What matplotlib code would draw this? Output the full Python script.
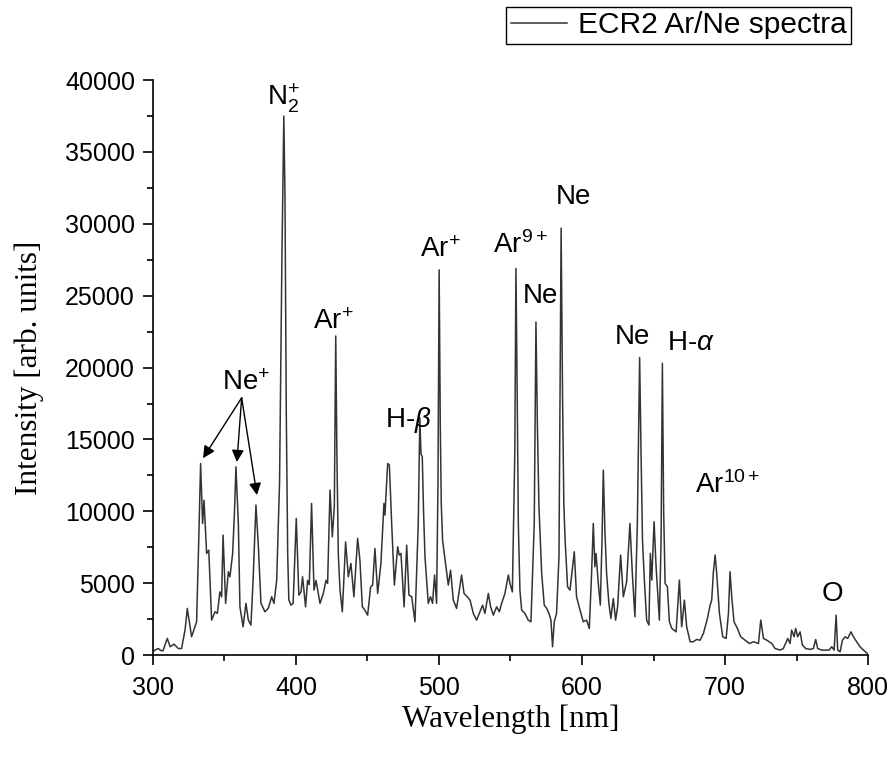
import numpy as np
import matplotlib.pyplot as plt
from matplotlib.ticker import MultipleLocator

plt.rcParams["font.family"] = "Liberation Sans"
plt.rcParams["mathtext.fontset"] = "custom"
plt.rcParams["mathtext.rm"] = "Liberation Sans"
plt.rcParams["mathtext.it"] = "Liberation Sans:italic"

# spectrum [wavelength nm, intensity]
wavelength = [
    300.0, 301.4, 303.7, 305.5, 307.0, 310.0, 312.0, 314.7, 317.7, 320.0,
    322.5, 324.0, 327.0, 330.5, 332.0, 333.3, 334.7, 335.7, 337.5, 339.0,
    341.0, 343.4, 345.0, 346.8, 348.0, 349.0, 350.8, 352.7, 353.8, 355.7,
    357.0, 358.0, 359.7, 360.8, 363.0, 365.0, 366.7, 368.5, 370.0, 372.0,
    373.7, 375.5, 378.3, 380.6, 383.0, 384.6, 386.5, 388.5, 390.2, 391.5,
    392.3, 393.2, 394.2, 395.0, 396.5, 398.0, 400.2, 402.0, 403.5, 404.6,
    406.7, 408.1, 409.3, 410.9, 412.6, 414.0, 416.8, 419.1, 421.0, 422.1,
    423.8, 425.4, 426.8, 427.8, 428.6, 429.6, 430.8, 432.4, 434.7, 436.6,
    438.4, 440.5, 443.1, 444.7, 446.4, 448.2, 450.1, 452.2, 453.6, 455.2,
    457.1, 459.4, 461.5, 462.2, 464.1, 465.3, 466.9, 468.8, 471.1, 472.2,
    473.4, 475.6, 477.4, 479.0, 480.9, 483.2, 485.5, 486.6, 487.4, 488.3,
    489.2, 490.2, 492.5, 494.1, 495.5, 496.9, 498.3, 499.3, 500.1, 500.9,
    501.6, 502.5, 504.6, 506.5, 508.1, 510.0, 512.3, 515.8, 517.5, 519.8,
    521.7, 524.0, 526.3, 528.2, 530.5, 532.1, 534.5, 536.1, 538.0, 540.3,
    542.2, 543.8, 546.1, 548.5, 549.6, 551.3, 553.0, 553.8, 554.6, 555.5,
    556.6, 557.8, 560.1, 562.4, 564.3, 566.6, 567.8, 568.8, 569.9, 571.8,
    573.6, 575.3, 576.9, 578.3, 579.4, 580.6, 582.2, 583.9, 585.4, 586.4,
    587.3, 588.2, 589.9, 591.6, 593.2, 594.6, 596.2, 598.6, 600.9, 603.2,
    605.1, 606.7, 607.9, 609.0, 609.8, 611.4, 612.8, 614.0, 614.9, 616.0,
    617.2, 618.8, 620.2, 621.9, 623.5, 624.9, 627.0, 628.9, 631.2, 633.5,
    635.2, 637.0, 638.7, 640.3, 641.3, 642.3, 643.6, 645.2, 646.8, 647.8,
    648.8, 650.4, 651.8, 654.1, 655.3, 656.2, 657.1, 658.1, 659.7, 661.1,
    662.8, 665.8, 668.1, 669.7, 671.6, 673.2, 675.6, 677.9, 680.2, 682.6,
    684.9, 687.7, 689.6, 690.7, 691.9, 693.1, 694.2, 696.1, 698.4, 700.8,
    702.4, 703.5, 704.7, 706.3, 708.7, 711.0, 714.0, 717.1, 719.9, 723.4,
    725.0, 726.9, 729.2, 732.7, 735.0, 738.5, 740.8, 743.9, 745.5, 746.6,
    748.3, 749.4, 750.8, 752.5, 754.1, 756.4, 759.5, 761.8, 763.4, 764.8,
    767.6, 770.4, 772.8, 774.6, 776.3, 777.7, 778.8, 780.5, 782.1, 784.0,
    785.8, 788.1, 789.8, 792.1, 794.4, 796.8, 799.5,
]
intensity = [
    250, 350, 460, 320, 300, 1160, 580, 765, 460, 460,
    1800, 3250, 1275, 2320, 8000, 13330, 9160, 10780, 7070, 7300,
    2435, 3015, 2900, 4400, 4060, 8350, 3600, 5800, 5450, 7070,
    10000, 13100, 9160, 3360, 1970, 3600, 2435, 2090, 5200, 10440,
    7540, 3600, 3015, 3250, 4060, 3600, 5200, 12000, 28000, 37500,
    32000, 17000, 7000, 3830, 3480, 3600, 9510, 4170, 4400, 5450,
    3360, 5200, 4900, 10550, 4520, 5200, 3600, 4290, 5200, 4990,
    11480, 8230, 10320, 22200, 14000, 7000, 4520, 3015, 7880, 5450,
    6380, 4060, 8120, 6610, 3360, 3130, 2780, 4750, 4870, 7420,
    4290, 6380, 10550, 9740, 13330, 13220, 9160, 4870, 7540, 6960,
    7070, 3360, 7650, 4170, 4060, 2320, 9160, 16500, 14000, 13800,
    10000, 6840, 3600, 4060, 3600, 5570, 3600, 12000, 26800, 16000,
    10500, 8000, 6380, 4870, 5910, 3830, 3250, 5570, 4290, 4060,
    3830, 2900, 2435, 2900, 3480, 2900, 4290, 3360, 2780, 3360,
    3015, 3600, 4290, 5570, 4990, 4400, 14000, 26900, 19000, 9000,
    4500, 3130, 2900, 2435, 2320, 9160, 23170, 16000, 10320, 5680,
    3480, 3250, 2900, 2435, 580, 2320, 2900, 6840, 29700, 18000,
    10500, 8000, 4750, 4520, 5910, 7190, 4060, 3130, 2320, 2435,
    1855, 5680, 9160, 6150, 7070, 4990, 3480, 8000, 12870, 8700,
    5680, 3600, 2550, 3940, 2435, 3360, 6960, 4060, 5100, 9160,
    5680, 2670, 9160, 20700, 14000, 8000, 5220, 2435, 2090, 7070,
    5220, 9280, 6150, 2435, 8000, 20300, 10000, 4990, 4750, 2320,
    1855, 1620, 5220, 1970, 3830, 1970, 930, 930, 1090, 1040,
    1510, 2550, 3480, 3830, 5800, 6960, 5680, 2900, 1275, 1160,
    2900, 5800, 4060, 2320, 1855, 1275, 1040, 810, 930, 810,
    2435, 1160, 1040, 810, 460, 350, 460, 1160, 810, 1740,
    1275, 1855, 1275, 1620, 700, 460, 400, 460, 1090, 460,
    350, 350, 350, 580, 350, 2780, 350, 230, 1040, 1275,
    1160, 1620, 1275, 930, 580, 350, 115,
]

# peak labels: text, x, y
labels = ["N$_2^{+}$", "Ne$^{+}$", "Ar$^{+}$", "H-$\\beta$", "Ar$^{+}$", "Ar$^{9+}$",
          "Ne", "Ne", "Ne", "H-$\\alpha$", "Ar$^{10+}$", "O"]
label_x = [391, 365, 425.9, 478.3, 500.7, 556.6, 570.6, 593.7, 635, 676.2, 702, 774.8]
label_y = [38750, 18900, 23170, 16350, 28180, 28520, 24980, 31860, 22120, 21700, 11830, 4240]

# Ne+ arrows
arrow_start = (362, 17900)
arrow_tips_x = [335, 358.7, 372.7]
arrow_tips_y = [13700, 13430, 11130]

fig = plt.figure(figsize=(8.91, 7.6), dpi=100)
ax = fig.add_axes([0.1717, 0.138, 0.8025, 0.7566])

ax.plot(wavelength, intensity, color="#333333", linewidth=1.1, label="ECR2 Ar/Ne spectra")

for t, x, y in zip(labels, label_x, label_y):
    ax.text(x, y, t, fontsize=20, ha="center", va="center")

for x, y in zip(arrow_tips_x, arrow_tips_y):
    ax.annotate("", xy=(x, y), xytext=arrow_start,
                arrowprops=dict(arrowstyle="-|>", color="black", lw=1.0,
                                mutation_scale=18, shrinkA=0, shrinkB=0))

ax.set_xlim(300, 800)
ax.set_ylim(0, 40000)
ax.xaxis.set_major_locator(MultipleLocator(100))
ax.xaxis.set_minor_locator(MultipleLocator(50))
ax.yaxis.set_major_locator(MultipleLocator(5000))
ax.yaxis.set_minor_locator(MultipleLocator(2500))
ax.tick_params(which="major", direction="out", length=7, width=1.2, labelsize=18)
ax.tick_params(axis="y", which="major", pad=6)
ax.tick_params(axis="x", which="major", pad=8)
ax.tick_params(which="minor", direction="out", length=4, width=1.2)
ax.spines["top"].set_visible(False)
ax.spines["right"].set_visible(False)
ax.spines["left"].set_linewidth(1.2)
ax.spines["bottom"].set_linewidth(1.2)

ax.set_xlabel("Wavelength [nm]", family="Liberation Serif", fontsize=22.5, labelpad=3)
ax.set_ylabel("Intensity [arb. units]", family="Liberation Serif", fontsize=22.5, labelpad=15)

leg = fig.legend(loc="upper right", bbox_to_anchor=(851 / 891, 1 - 7 / 760),
                 fontsize=21.5, fancybox=False, edgecolor="black", framealpha=1,
                 borderaxespad=0, handlelength=1.9, handletextpad=0.35, borderpad=0.15)
leg.get_frame().set_linewidth(1.0)

fig.savefig("out.png", dpi=100)
